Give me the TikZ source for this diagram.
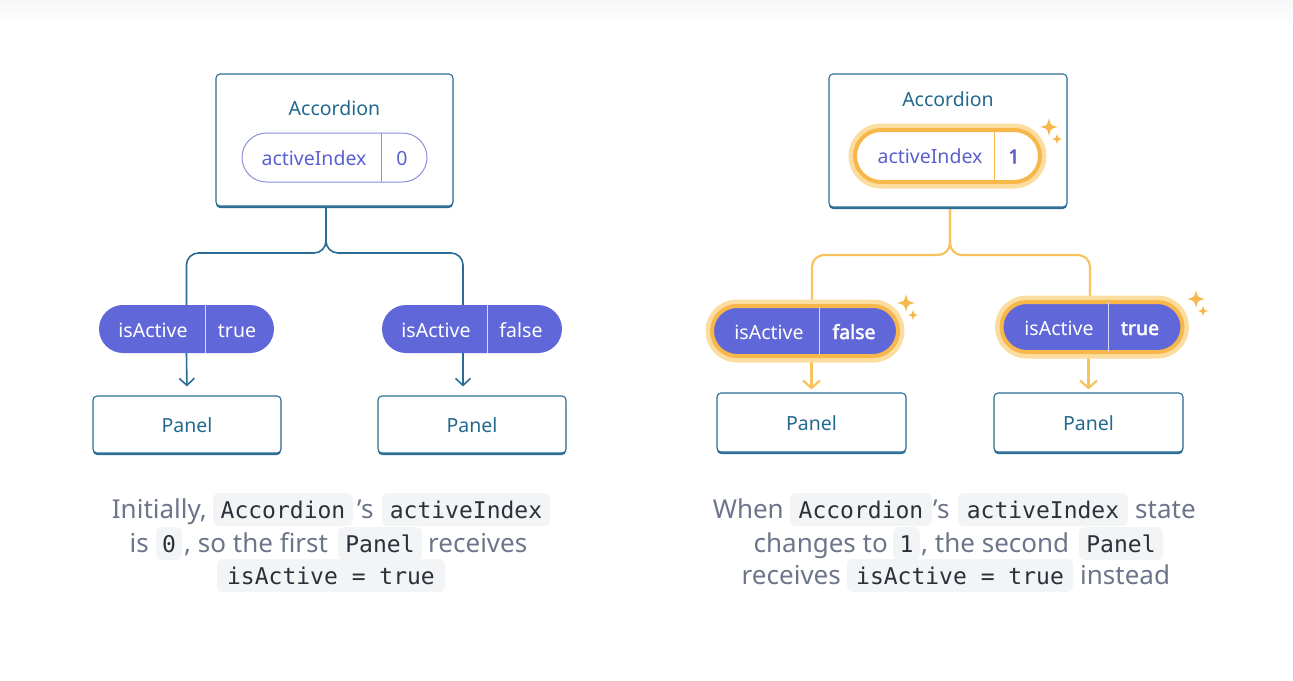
\documentclass[tikz,border=0pt]{standalone}
\usepackage{fontspec}
\setmainfont{Noto Sans}
\setmonofont{DejaVu Sans Mono}
\newfontfamily\nbold{Noto Sans}[FakeBold=2.2]
\usetikzlibrary{arrows.meta,shadows,calc}
\pgfdeclarelayer{background}
\pgfsetlayers{background,main}
\definecolor{boxc}{HTML}{2B6C95}
\definecolor{titlec}{HTML}{23698F}
\definecolor{pillc}{HTML}{6067D8}
\definecolor{pilll}{HTML}{8C90E0}
\definecolor{pillt}{HTML}{5A60CC}
\definecolor{orc}{HTML}{F8C25F}
\definecolor{orb}{HTML}{F7B74A}
\definecolor{glow}{HTML}{FCDDA0}
\definecolor{capc}{HTML}{6C758A}
\definecolor{codebg}{HTML}{F3F4F6}
\definecolor{codet}{HTML}{2C303A}
\definecolor{topc}{HTML}{F6F7F8}
\newcommand\mysparkle[3]{\fill[orb] (#1,#2-#3) .. controls (#1+0.18*#3,#2-0.18*#3) .. (#1+#3,#2) .. controls (#1+0.18*#3,#2+0.18*#3) .. (#1,#2+#3) .. controls (#1-0.18*#3,#2+0.18*#3) .. (#1-#3,#2) .. controls (#1-0.18*#3,#2-0.18*#3) .. cycle;}
\tikzset{
  comp/.style={draw=boxc, line width=1.1pt, fill=white, rounded corners=4pt, inner sep=0pt,
    drop shadow={shadow xshift=0pt, shadow yshift=-2pt, fill=boxc, opacity=1}},
  lbl/.style={font=\fontsize{19.5}{23}\selectfont, inner sep=0pt, anchor=base},
  blbl/.style={lbl, font=\nbold\fontsize{19.5}{23}\selectfont},
  ttl/.style={lbl, text=titlec},
  pillp/.style={fill=pillc, inner sep=0pt, rounded corners=24pt},
  pillo/.style={draw=pilll, line width=1pt, fill=white, inner sep=0pt, rounded corners=24.5pt},
  hl/.style={preaction={draw=glow, line width=13pt}, draw=orb, line width=4pt},
  wl/.style={lbl, text=white},
  conn/.style={draw=boxc, line width=1.6pt, rounded corners=12pt},
  oconn/.style={draw=orc, line width=2.2pt, rounded corners=12pt},
  arr/.style={draw=boxc, line width=1.6pt, -{Straight Barb[length=7pt,width=15pt]}},
  oarr/.style={draw=orc, line width=2.2pt, -{Straight Barb[length=7.5pt,width=17pt]}},
  captxt/.style={font=\fontsize{26}{30}\selectfont, text=capc, inner sep=0pt},
  codebx/.style={fill=codebg, rounded corners=6pt, text=codet, font=\ttfamily\fontsize{23}{26}\selectfont,
    inner xsep=0pt, inner ysep=8pt, text height=17pt, text depth=0pt, anchor=base}
}
\begin{document}
\begin{tikzpicture}[x=1pt,y=-1pt]
\useasboundingbox (0,0) rectangle (1293,680);
\shade[top color=topc, bottom color=white, draw=none] (0,0) rectangle (1293,22);

% ---------------- left diagram ----------------
\node[comp, minimum width=237pt, minimum height=132pt] (acc1) at (334.5,140) {};
\node[ttl] (acc1t) at (334.5,115.7) {Accordion};
\node[pillo, minimum width=185pt, minimum height=49pt] (ai1) at (334.5,157.5) {};
\draw[pilll, line width=1pt] (381,133) -- (381,182);
\node[lbl, text=pillt] (ai1k) at (314,165) {activeIndex};
\node[lbl, text=pillt] (ai1v) at (402,165) {0};

\node[pillp, minimum width=175pt, minimum height=48pt] (pa) at (186.5,329) {};
\draw[white!75!pillc, line width=1pt] (205,305) -- (205,353);
\node[wl] (pak) at (153,337) {isActive};
\node[wl] (pav) at (237,337) {true};

\node[pillp, minimum width=180pt, minimum height=48pt] (pb) at (472,329) {};
\draw[white!75!pillc, line width=1pt] (487,305) -- (487,353);
\node[wl] (pbk) at (436,337) {isActive};
\node[wl] (pbv) at (521,337) {false};

\node[comp, minimum width=188pt, minimum height=57pt] (pl1) at (187,424.5) {};
\node[ttl] (pl1t) at (187,432) {Panel};
\node[comp, minimum width=188pt, minimum height=57pt] (pl2) at (472,424.5) {};
\node[ttl] (pl2t) at (472,432) {Panel};

\coordinate (s1) at (326,206);
\begin{pgfonlayer}{background}
\draw[conn] (s1) -- (326,253) -- (186.5,253) -- (pa.north);
\draw[conn] (s1) -- (326,253) -- (463,253) -- ($(pb.north)+(-9,0)$);
\draw[arr, shorten >=9pt] (pa.south) -- (pl1.north);
\draw[arr, shorten >=9pt] ($(pb.south)+(-9,0)$) -- ($(pl2.north)+(-9,0)$);
\end{pgfonlayer}

% ---------------- right diagram ----------------
\node[comp, minimum width=238pt, minimum height=133pt] (acc2) at (948,140.5) {};
\node[ttl] (acc2t) at (948,106.7) {Accordion};
\node[hl, fill=white, inner sep=0pt, rounded corners=26pt, minimum width=185pt, minimum height=52pt] (ai2) at (947.5,156) {};
\draw[orb, line width=1pt] (994,132) -- (994,180);
\node[lbl, text=pillt] (ai2k) at (930,163.5) {activeIndex};
\node[blbl, text=pillt] (ai2v) at (1014,163.5) {1};
\mysparkle{1049}{127}{9}
\mysparkle{1057}{139}{5.5}

\node[pillp, hl, rounded corners=25pt, minimum width=186pt, minimum height=50pt] (pc) at (805,331) {};
\draw[white!75!pillc, line width=1pt] (819,307) -- (819,355);
\node[wl] (pck) at (769,339) {isActive};
\node[blbl, text=white] (pcv) at (854,339) {false};
\mysparkle{906}{303}{9}
\mysparkle{913}{315}{5.5}

\node[pillp, hl, rounded corners=25pt, minimum width=181pt, minimum height=50pt] (pd) at (1092,327) {};
\draw[white!75!pillc, line width=1pt] (1108,302) -- (1108,352);
\node[wl] (pdk) at (1059,335) {isActive};
\node[blbl, text=white] (pdv) at (1140,335) {true};
\mysparkle{1196}{299}{9}
\mysparkle{1203}{311}{5.5}

\node[comp, minimum width=189pt, minimum height=59pt] (pl3) at (811.5,422.5) {};
\node[ttl] (pl3t) at (811.5,430) {Panel};
\node[comp, minimum width=189pt, minimum height=59pt] (pl4) at (1088.5,422.5) {};
\node[ttl] (pl4t) at (1088.5,430) {Panel};

\coordinate (s2) at (950,207);
\begin{pgfonlayer}{background}
\draw[oconn] (s2) -- (950,255) -- (812,255) -- ($(pc.north)+(7,0)$);
\draw[oconn] (s2) -- (950,255) -- (1090,255) -- ($(pd.north)+(-2,0)$);
\draw[oarr, shorten >=3pt] (pc.south -| pl3.north) -- (pl3.north);
\draw[oarr, shorten >=3pt] (pd.south -| pl4.north) -- (pl4.north);
\end{pgfonlayer}

% ---------------- left caption ----------------
\node[captxt, anchor=base east] (l1a) at (207,518) {Initially,};
\node[codebx, minimum width=140pt] (l1b) at (283,518) {Accordion};
\node[captxt, anchor=base west] (l1c) at (357,518) {’s};
\node[codebx, minimum width=168pt] (l1d) at (466,518) {activeIndex};
\node[captxt, anchor=base east] (l2a) at (149,552) {is};
\node[codebx, minimum width=26pt] (l2b) at (169,552) {0};
\node[captxt, anchor=base west] (l2c) at (184,552) {, so the first};
\node[codebx, minimum width=84pt] (l2d) at (380,552) {Panel};
\node[captxt, anchor=base west] (l2e) at (428,552) {receives};
\node[codebx, minimum width=228pt] (l3a) at (331,584) {isActive = true};

% ---------------- right caption ----------------
\node[captxt, anchor=base east] (r1a) at (784,518) {When};
\node[codebx, minimum width=142pt] (r1b) at (861,518) {Accordion};
\node[captxt, anchor=base west] (r1c) at (933,518) {’s};
\node[codebx, minimum width=170pt] (r1d) at (1043,518) {activeIndex};
\node[captxt, anchor=base west] (r1e) at (1135,518) {state};
\node[captxt, anchor=base east] (r2a) at (888,552) {changes to};
\node[codebx, minimum width=27pt] (r2b) at (906.5,552) {1};
\node[captxt, anchor=base west] (r2c) at (921,552) {, the second};
\node[codebx, minimum width=84pt] (r2d) at (1121,552) {Panel};
\node[captxt, anchor=base east] (r3a) at (841,584) {receives};
\node[codebx, minimum width=226pt] (r3b) at (960,584) {isActive = true};
\node[captxt, anchor=base west] (r3c) at (1080,584) {instead};
\end{tikzpicture}
\end{document}
